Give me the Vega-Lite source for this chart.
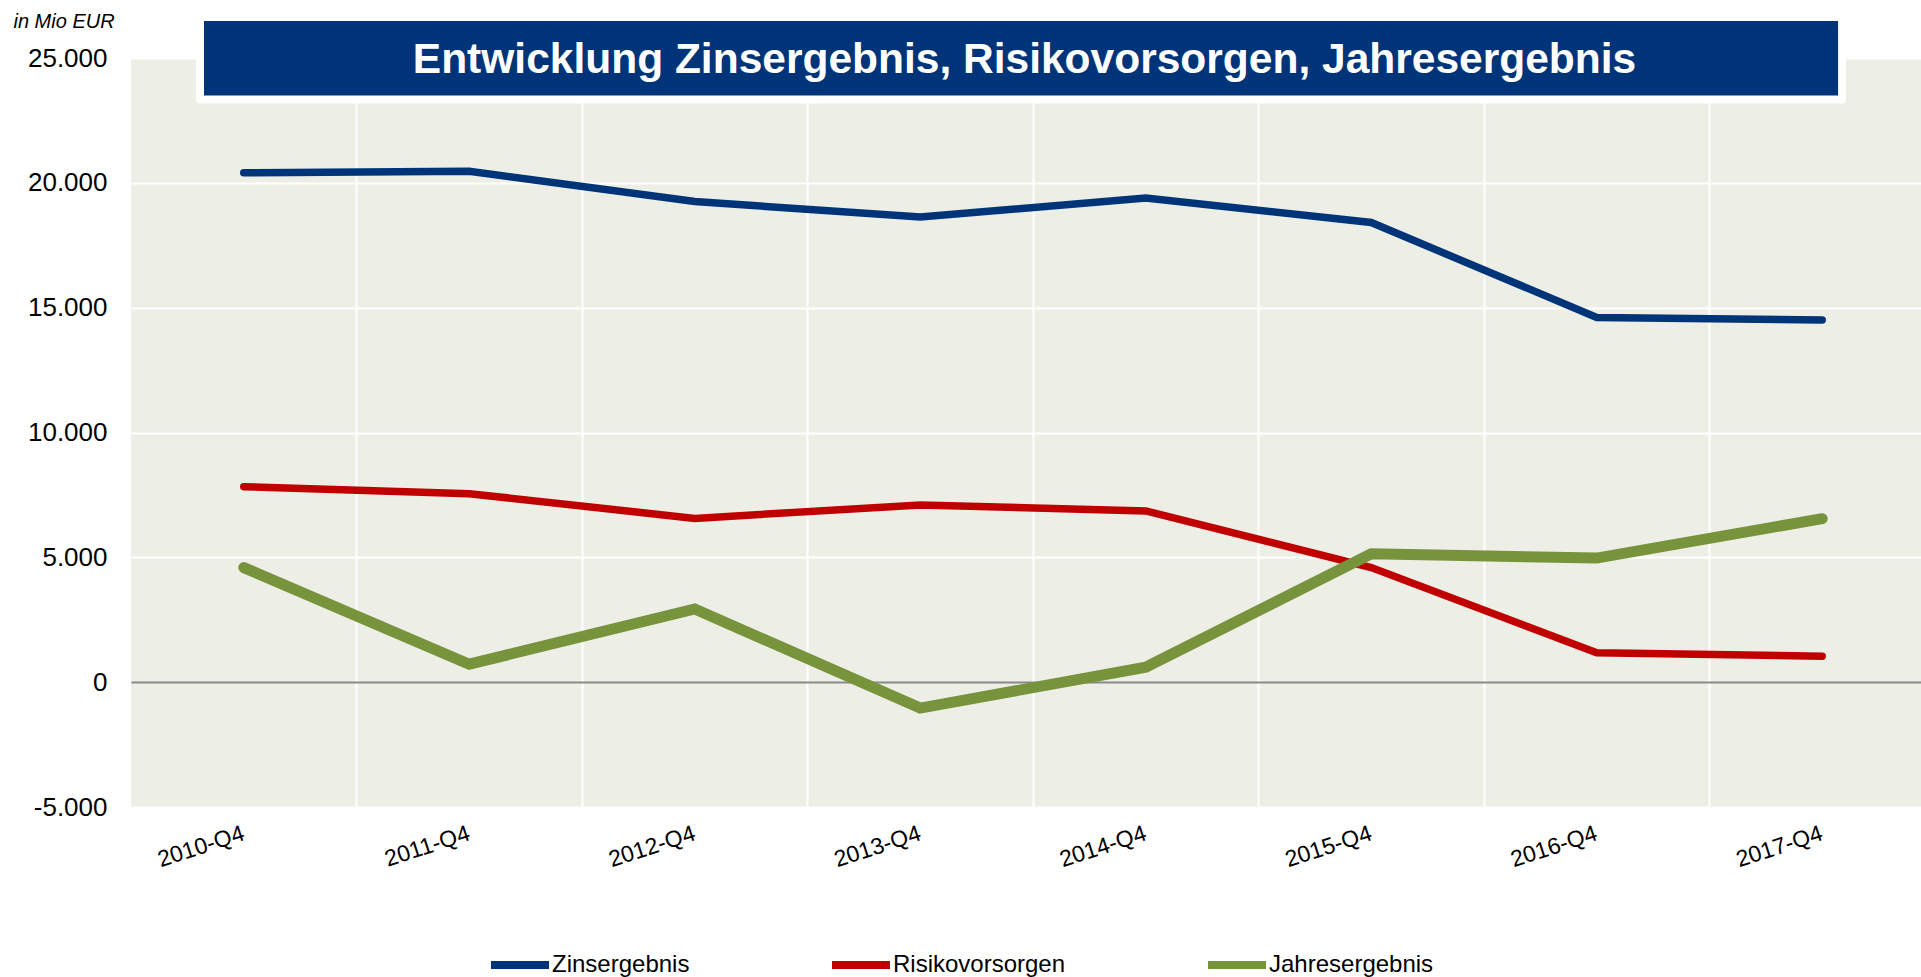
{
  "$schema": "https://vega.github.io/schema/vega-lite/v6.json",
  "autosize": {"type": "none"},
  "padding": {"left": 131, "top": 58, "right": 0, "bottom": 170},
  "width": 1790,
  "height": 749,
  "background": "white",
  "title": {
    "text": "Entwicklung Zinsergebnis, Risikovorsorgen, Jahresergebnis",
    "anchor": "middle",
    "frame": "group",
    "color": "white",
    "fontSize": 42.5,
    "fontWeight": "bold",
    "font": "Liberation Sans",
    "baseline": "alphabetic",
    "offset": 0,
    "dx": -1.5,
    "dy": 104.5
  },
  "config": {
    "font": "Liberation Sans",
    "locale": {"number": {"decimal": ",", "thousands": ".", "grouping": [3], "currency": ["", " €"], "minus": "-"}},
    "view": {"fill": "#EDEEE6", "stroke": null},
    "axis": {"domain": false, "ticks": false, "labelColor": "black", "titleColor": "black"}
  },
  "data": {
    "values": [
      {"Jahr": 2010, "Quartal": "2010-Q4", "Serie": "Zinsergebnis", "Wert": 20400},
      {"Jahr": 2011, "Quartal": "2011-Q4", "Serie": "Zinsergebnis", "Wert": 20460},
      {"Jahr": 2012, "Quartal": "2012-Q4", "Serie": "Zinsergebnis", "Wert": 19250},
      {"Jahr": 2013, "Quartal": "2013-Q4", "Serie": "Zinsergebnis", "Wert": 18630},
      {"Jahr": 2014, "Quartal": "2014-Q4", "Serie": "Zinsergebnis", "Wert": 19390},
      {"Jahr": 2015, "Quartal": "2015-Q4", "Serie": "Zinsergebnis", "Wert": 18410},
      {"Jahr": 2016, "Quartal": "2016-Q4", "Serie": "Zinsergebnis", "Wert": 14610},
      {"Jahr": 2017, "Quartal": "2017-Q4", "Serie": "Zinsergebnis", "Wert": 14510},
      {"Jahr": 2010, "Quartal": "2010-Q4", "Serie": "Risikovorsorgen", "Wert": 7830},
      {"Jahr": 2011, "Quartal": "2011-Q4", "Serie": "Risikovorsorgen", "Wert": 7550},
      {"Jahr": 2012, "Quartal": "2012-Q4", "Serie": "Risikovorsorgen", "Wert": 6560},
      {"Jahr": 2013, "Quartal": "2013-Q4", "Serie": "Risikovorsorgen", "Wert": 7100},
      {"Jahr": 2014, "Quartal": "2014-Q4", "Serie": "Risikovorsorgen", "Wert": 6860},
      {"Jahr": 2015, "Quartal": "2015-Q4", "Serie": "Risikovorsorgen", "Wert": 4590},
      {"Jahr": 2016, "Quartal": "2016-Q4", "Serie": "Risikovorsorgen", "Wert": 1180},
      {"Jahr": 2017, "Quartal": "2017-Q4", "Serie": "Risikovorsorgen", "Wert": 1040},
      {"Jahr": 2010, "Quartal": "2010-Q4", "Serie": "Jahresergebnis", "Wert": 4590},
      {"Jahr": 2011, "Quartal": "2011-Q4", "Serie": "Jahresergebnis", "Wert": 720},
      {"Jahr": 2012, "Quartal": "2012-Q4", "Serie": "Jahresergebnis", "Wert": 2930},
      {"Jahr": 2013, "Quartal": "2013-Q4", "Serie": "Jahresergebnis", "Wert": -1040},
      {"Jahr": 2014, "Quartal": "2014-Q4", "Serie": "Jahresergebnis", "Wert": 600},
      {"Jahr": 2015, "Quartal": "2015-Q4", "Serie": "Jahresergebnis", "Wert": 5140},
      {"Jahr": 2016, "Quartal": "2016-Q4", "Serie": "Jahresergebnis", "Wert": 4970},
      {"Jahr": 2017, "Quartal": "2017-Q4", "Serie": "Jahresergebnis", "Wert": 6550}
    ]
  },
  "layer": [
    {
      "data": {"values": [{}]},
      "mark": {"type": "rect", "fill": "#003479", "stroke": "white", "strokeWidth": 8, "strokeJoin": "round"},
      "encoding": {
        "x": {
          "datum": 2009.806, "type": "quantitative",
          "scale": {"domain": [2009.5, 2017.438], "nice": false, "zero": false},
          "axis": {"orient": "bottom", "title": null, "values": [2010.5, 2011.5, 2012.5, 2013.5, 2014.5, 2015.5, 2016.5], "grid": true, "gridColor": "white", "gridWidth": 2, "labels": false}
        },
        "x2": {"datum": 2017.088},
        "y": {
          "datum": 26642, "type": "quantitative",
          "scale": {"domain": [-5000, 25000], "nice": false, "zero": false},
          "axis": {"title": "in Mio EUR", "values": [-5000, 0, 5000, 10000, 15000, 20000, 25000], "format": ",.0f", "grid": true, "gridColor": {"condition": {"test": "datum.value === 0", "value": "#898989"}, "value": "white"}, "gridWidth": 2, "labelFontSize": 26, "labelPadding": 24, "labelBaseline": "middle", "labelFlush": false, "labelOverlap": false, "titleAngle": 0, "titleFontStyle": "italic", "titleFontWeight": "normal", "titleFontSize": 20, "titleAlign": "left", "titleBaseline": "alphabetic", "titleX": -118, "titleY": -31}
        },
        "y2": {"datum": 23338}
      }
    },
    {
      "mark": {"type": "line", "strokeCap": "round", "strokeJoin": "miter"},
      "encoding": {
        "x": {
          "field": "Jahr", "type": "quantitative",
          "axis": {"orient": "bottom", "title": null, "values": [2010, 2011, 2012, 2013, 2014, 2015, 2016, 2017], "grid": false, "labelExpr": "datum.value + '-Q4'", "labelAngle": -18, "labelAlign": "right", "labelBaseline": "top", "labelFontSize": 23, "labelPadding": 15, "labelOffset": -4, "labelOverlap": false, "labelFlush": false}
        },
        "y": {
          "field": "Wert", "type": "quantitative",
          "axis": {"title": "in Mio EUR", "values": [-5000, 0, 5000, 10000, 15000, 20000, 25000], "format": ",.0f", "grid": true, "gridColor": {"condition": {"test": "datum.value === 0", "value": "#898989"}, "value": "white"}, "gridWidth": 2, "labelFontSize": 26, "labelPadding": 24, "labelBaseline": "middle", "labelFlush": false, "labelOverlap": false, "titleAngle": 0, "titleFontStyle": "italic", "titleFontWeight": "normal", "titleFontSize": 20, "titleAlign": "left", "titleBaseline": "alphabetic", "titleX": -118, "titleY": -31}
        },
        "color": {
          "field": "Serie", "type": "nominal",
          "scale": {"domain": ["Zinsergebnis", "Risikovorsorgen", "Jahresergebnis"], "range": ["#003479", "#C00000", "#77933C"]},
          "legend": {"title": null, "orient": "none", "legendX": 356, "legendY": 874, "direction": "horizontal", "symbolType": "stroke", "symbolSize": 3364, "symbolStrokeWidth": 8, "labelFontSize": 24, "labelOffset": -1, "labelLimit": 400, "columnPadding": 126, "labelColor": "black", "labelFont": "Liberation Sans"}
        },
        "strokeWidth": {
          "condition": {"test": "datum.Serie === 'Jahresergebnis'", "value": 11},
          "value": 7.5
        }
      }
    }
  ],
  "resolve": {"axis": {"x": "independent"}}
}
